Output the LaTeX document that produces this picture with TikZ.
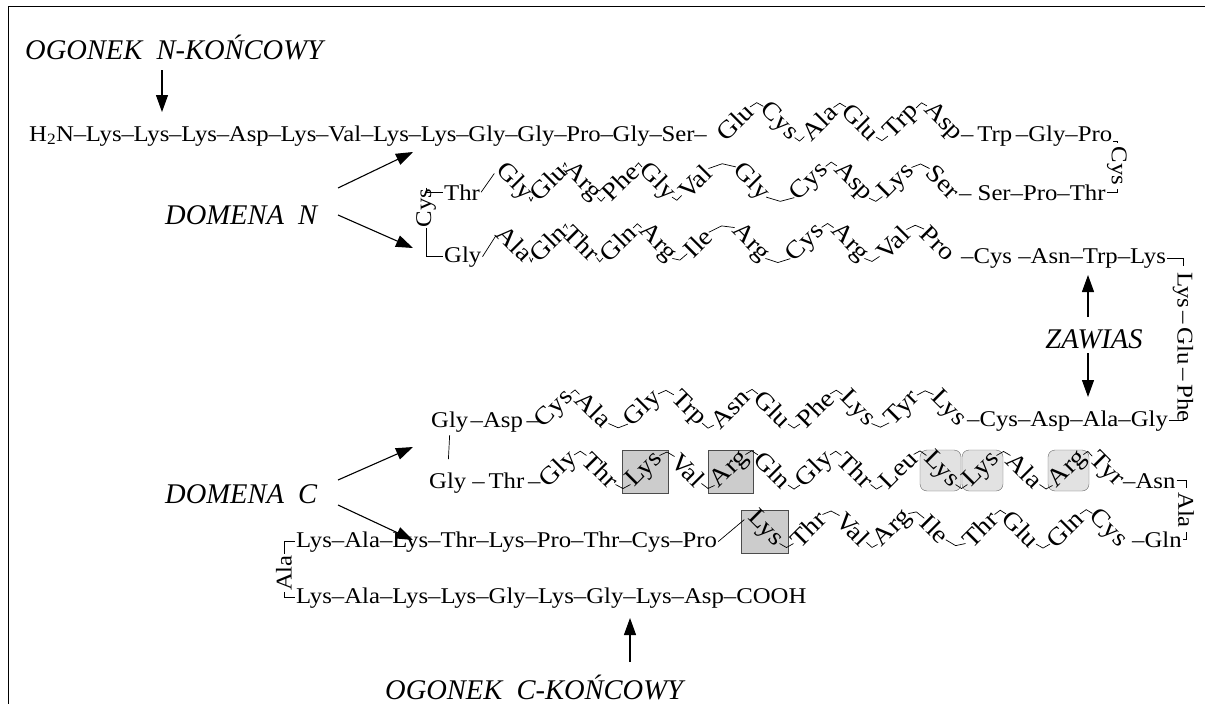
\documentclass[tikz,border=0pt]{standalone}
\usepackage{fontspec}
\setmainfont{Liberation Serif}
\newfontfamily\resfont{Liberation Serif}[FakeStretch=1.10]
\usetikzlibrary{arrows.meta,calc,positioning}
\definecolor{boxgray}{RGB}{204,204,204}
\definecolor{rndgray}{RGB}{226,226,226}
\newcommand\dd{\kern-.25pt–\kern-.25pt}
\newcommand\vd{\kern3.5pt–\kern3.5pt}
\tikzset{
  res/.style={inner sep=1pt, font=\resfont\fontsize{22.5}{26}\selectfont},
  zres/.style={inner sep=0.5pt, font=\resfont\fontsize{25}{28}\selectfont},
  lbl/.style={inner sep=0pt, font=\fontsize{28.5}{32}\selectfont\itshape},
  arr/.style={-{Triangle[length=17pt,width=12pt]}, line width=1.1pt},
  bond/.style={line width=0.7pt},
}
\begin{document}
\begin{tikzpicture}[x=1pt,y=-1pt]
\useasboundingbox (0,0) rectangle (1205,704);
\draw[line width=0.8pt] (8,704) -- (8,6) -- (1205,6);

% boxes behind residues
\draw[fill=boxgray, draw=black!70] (622,450) rectangle (668,493);
\draw[fill=boxgray, draw=black!70] (708,450) rectangle (753,493);
\draw[fill=boxgray, draw=black!70] (741,510) rectangle (788,553);
\draw[fill=rndgray, draw=black!60, rounded corners=7pt] (920,450) rectangle (961,491);
\draw[fill=rndgray, draw=black!60, rounded corners=7pt] (962,450) rectangle (1003,491);
\draw[fill=rndgray, draw=black!60, rounded corners=7pt] (1048,450) rectangle (1089,491);

% labels
\node[lbl, anchor=base west] (ogN) at (25,59) {OGONEK\ \ N-KOŃCOWY};
\node[lbl, anchor=base west] (domN) at (165,224) {DOMENA\ \ N};
\node[lbl] (zaw) at (1094,339) {ZAWIAS};
\node[lbl, anchor=base west] (domC) at (165,503) {DOMENA\ \ C};
\node[lbl, anchor=base west] (ogC) at (385,699) {OGONEK\ \ C-KOŃCOWY};

% row 1
\node[res, anchor=base west] (a0) at (28,141) {H\textsubscript{2}N\dd Lys\dd Lys\dd Lys\dd Asp\dd Lys\dd Val\dd Lys\dd Lys\dd Gly\dd Gly\dd Pro\dd Gly\dd Ser\dd};
\foreach \r/\x [count=\i] in {Glu/735,Cys/779,Ala/819,Glu/861,Trp/902,Asp/943}{
  \pgfmathsetmacro\ang{ifthenelse(mod(\i,2)==1,45,-45)}
  \node[zres, rotate=\ang] (a\i) at (\x,122) {\r};}
\node[res, anchor=base west] (a7) at (960,141) {–\,Trp\,–Gly–Pro};
\node[res, rotate=-90] (cr) at (1117,166) {Cys};

% row 2
\node[res, rotate=90] (cl) at (426,208) {Cys};
\node[res, anchor=base west] (b0) at (443,200) {Thr};
\foreach \r/\x [count=\i] in {Gly/514,Glu/548,Arg/582,Phe/620,Gly/657,Val/695,Gly/751,Cys/810,Asp/853,Lys/897,Ser/943}{
  \pgfmathsetmacro\ang{ifthenelse(mod(\i,2)==1,-45,45)}
  \node[zres, rotate=\ang] (b\i) at (\x,182) {\r};}
\node[res, anchor=base west] (b12) at (958,200) {– Ser–Pro–Thr};

% row 3
\node[res, anchor=base west] (c0) at (443,262) {Gly};
\foreach \r/\x [count=\i] in {Ala/515,Gln/548,Thr/582,Gln/618,Arg/657,Ile/698,Arg/750,Cys/806,Arg/849,Val/893,Pro/938}{
  \pgfmathsetmacro\ang{ifthenelse(mod(\i,2)==1,-45,45)}
  \node[zres, rotate=\ang] (c\i) at (\x,243) {\r};}
\node[res, anchor=base west] (c12) at (960,263) {–Cys –Asn–Trp–Lys};
\node[res, rotate=-90] (kef) at (1183,347) {Lys\vd Glu\vd Phe};

% row 4
\node[res, anchor=base west] (d0) at (430,427) {Gly};
\node[res, anchor=base west] (d00) at (d0.base east) {–Asp\,–};
\foreach \r/\x [count=\i] in {Cys/555,Ala/594,Gly/643,Trp/688,Asn/730,Glu/773,Phe/815,Lys/857,Tyr/903,Lys/948}{
  \pgfmathsetmacro\ang{ifthenelse(mod(\i,2)==1,45,-45)}
  \node[zres, rotate=\ang] (d\i) at (\x,409) {\r};}
\node[res, anchor=base west] (d11) at (966,426) {–Cys–Asp–Ala–Gly};

% row 5
\node[res, anchor=base west] (e0) at (428,488) {Gly};
\node[res, anchor=base west] (e00) at (e0.base east) {\,–\,Thr\,–};
\foreach \r/\x [count=\i] in {Gly/559,Thr/601,Lys/645,Val/688,Arg/730,Gln/773,Gly/815,Thr/856,Leu/898,Lys/941,Lys/982,Ala/1025,Arg/1068,Tyr/1106}{
  \pgfmathsetmacro\ang{ifthenelse(mod(\i,2)==1,45,-45)}
  \node[zres, rotate=\ang] (e\i) at (\x,470) {\r};}
\node[res, anchor=base west] (e15) at (1122,488) {–Asn};
\node[res, rotate=-90] (ar) at (1186,510) {Ala};

% row 6
\node[res, rotate=90] (al) at (284,573) {Ala};
\node[res, anchor=base west] (f0) at (295,547) {Lys–Ala–Lys–Thr–Lys–Pro–Thr–Cys–Pro};
\foreach \r/\x [count=\i] in {Lys/765,Thr/808,Val/853,Arg/893,Ile/935,Thr/980,Glu/1021,Gln/1065,Cys/1108}{
  \pgfmathsetmacro\ang{ifthenelse(mod(\i,2)==1,-45,45)}
  \node[zres, rotate=\ang] (f\i) at (\x,529) {\r};}
\node[res, anchor=base west] (f10) at (1131,547) {–Gln};

% row 7
\node[res, anchor=base west] (g0) at (295,603) {Lys–Ala–Lys–Lys–Gly–Lys–Gly–Lys–Asp–COOH};

% zigzag bonds
\foreach \n/\k/\s in {a/6/-1,b/11/1,c/11/1,d/10/-1,e/14/-1,f/9/1}{
  \foreach \i in {2,...,\k}{
    \pgfmathtruncatemacro\j{\i-1}
    \pgfmathsetmacro\d{ifthenelse(mod(\j,2)==1,4*\s,-4*\s)}
    \draw[bond] (\n\j.east) -- ($(\n\j.east)!.5!(\n\i.west)+(0,\d)$) -- (\n\i.west);}}

% turns and links
\draw[bond, shorten >=3pt] (a7.base east) -| (cr.west);
\draw[bond, shorten >=3pt] (b12.east) -| (cr.east);
\draw[bond] (cl.east) |- (b0.west);
\draw[bond] (cl.west) |- (c0.west);
\draw[bond, shorten >=8pt] (b0.east) -- (b1.west);
\draw[bond, shorten >=8pt] (c0.east) -- (c1.west);
\draw[bond, shorten >=5pt] (c12.east) -| (kef.west);
\draw[bond, shorten >=5pt] (d11.east) -| (kef.east);
\draw[bond, shorten <=2pt, shorten >=12pt] (d0.south) -- (e0.north);
\draw[bond, shorten >=3pt] (e15.east) -| (ar.west);
\draw[bond, shorten >=3pt] (f10.east) -| (ar.east);
\draw[bond, shorten >=8pt] (f0.east) -- (f1.west);
\draw[bond] (al.east) |- (f0.west);
\draw[bond] (al.west) |- (g0.west);

% arrows
\coordinate (nA) at (162,70);   \coordinate (nB) at (162,112);
\coordinate (dA) at (338,188);  \coordinate (dB) at (413,152);
\coordinate (dC) at (338,215);  \coordinate (dD) at (413,248);
\coordinate (zA) at (1088,317); \coordinate (zB) at (1088,275);
\coordinate (zC) at (1088,353); \coordinate (zD) at (1088,397);
\coordinate (cA) at (338,480);  \coordinate (cB) at (413,447);
\coordinate (cC) at (338,505);  \coordinate (cD) at (413,540);
\coordinate (tA) at (630,662);  \coordinate (tB) at (630,618);
\draw[arr] (nA) -- (nB);
\draw[arr] (dA) -- (dB);
\draw[arr] (dC) -- (dD);
\draw[arr] (zA) -- (zB);
\draw[arr] (zC) -- (zD);
\draw[arr] (cA) -- (cB);
\draw[arr] (cC) -- (cD);
\draw[arr] (tA) -- (tB);
\end{tikzpicture}
\end{document}
